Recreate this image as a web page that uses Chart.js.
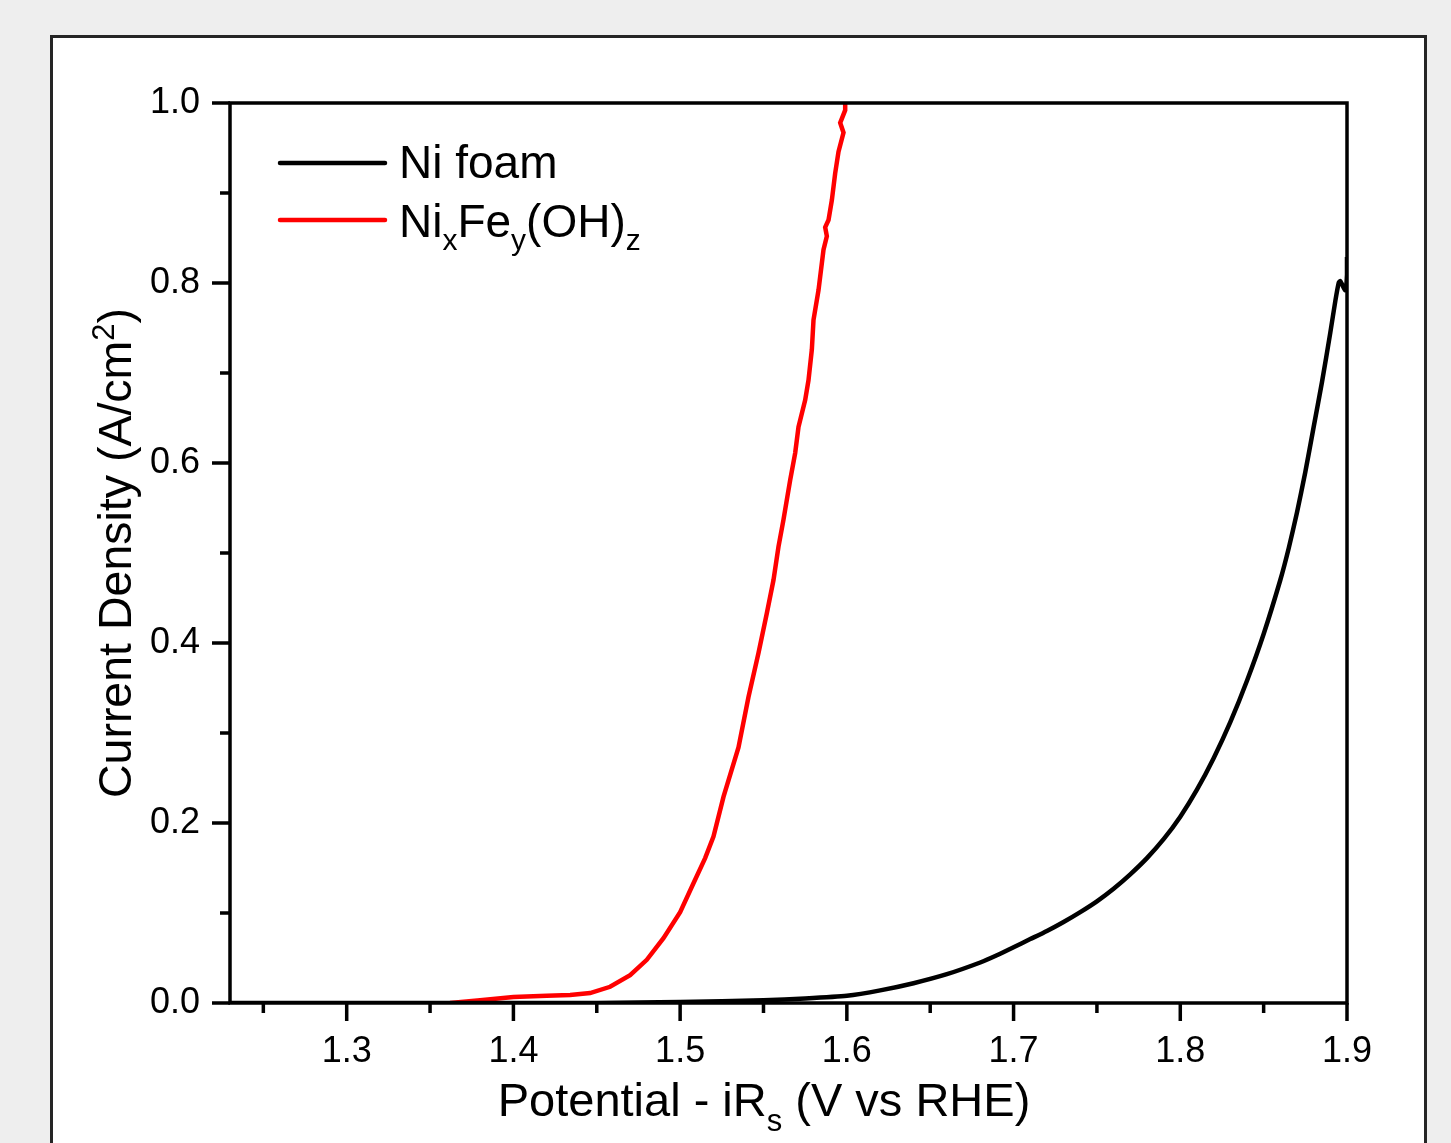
<!DOCTYPE html>
<html>
<head>
<meta charset="utf-8">
<script src="https://cdn.jsdelivr.net/npm/chart.js@4.4.1/dist/chart.umd.min.js"></script>
<style>
    body { margin: 0; background: #eeeeee; width: 1451px; height: 1143px; overflow: hidden; position: relative; }
    .panel { position: absolute; left: 50px; top: 35px; width: 1371px; height: 1200px; background: #fff; border: 3px solid #252525; }
    #lsvChart { position: absolute; left: 0; top: 0; }
</style>
</head>
<body>
<div class="panel"></div>
<canvas id="lsvChart" width="1451" height="1143"></canvas>
<script>
// Ni foam
const blackV = [1.23, 1.30, 1.40, 1.45, 1.50, 1.55, 1.575, 1.60, 1.62, 1.64, 1.66, 1.68, 1.69, 1.70, 1.71, 1.72, 1.73, 1.74, 1.75, 1.76, 1.77, 1.78, 1.79, 1.80, 1.81, 1.82, 1.83, 1.84, 1.85, 1.86, 1.865, 1.87, 1.875, 1.88, 1.885, 1.89, 1.893, 1.895, 1.896, 1.899, 1.900, 1.900];
const blackJ = [0, 0, 0, 0, 0.001, 0.003, 0.005, 0.008, 0.014, 0.022, 0.032, 0.045, 0.053, 0.062, 0.071, 0.080, 0.090, 0.101, 0.113, 0.127, 0.143, 0.161, 0.182, 0.207, 0.237, 0.272, 0.312, 0.358, 0.410, 0.470, 0.505, 0.545, 0.590, 0.640, 0.690, 0.745, 0.780, 0.800, 0.802, 0.792, 0.809, 0.829];

// NixFey(OH)z
const redV = [1.362, 1.38, 1.40, 1.42, 1.434, 1.446, 1.458, 1.47, 1.48, 1.49, 1.50, 1.508, 1.515, 1.52, 1.526, 1.535, 1.541, 1.547, 1.552, 1.556, 1.559, 1.562, 1.566, 1.569, 1.571, 1.575, 1.577, 1.579, 1.580, 1.583, 1.586, 1.588, 1.587, 1.589, 1.591, 1.593, 1.595, 1.598, 1.596, 1.599, 1.599];
const redJ = [0, 0.003, 0.0067, 0.008, 0.009, 0.011, 0.018, 0.031, 0.048, 0.072, 0.101, 0.133, 0.161, 0.185, 0.229, 0.284, 0.340, 0.389, 0.433, 0.470, 0.507, 0.537, 0.581, 0.611, 0.640, 0.670, 0.692, 0.726, 0.759, 0.792, 0.837, 0.852, 0.862, 0.870, 0.892, 0.922, 0.946, 0.967, 0.978, 0.992, 1.0];

const xMajor = [1.3, 1.4, 1.5, 1.6, 1.7, 1.8, 1.9];
const xMinor = [1.25, 1.35, 1.45, 1.55, 1.65, 1.75, 1.85];
const yMajor = [0, 0.2, 0.4, 0.6, 0.8, 1.0];
const yMinor = [0.1, 0.3, 0.5, 0.7, 0.9];

const FONT = 'Arial, "Liberation Sans", sans-serif';

function toPoints(xs, ys) {
    return xs.map((v, i) => ({ x: v, y: ys[i] }));
}

// draw text pieces with sub/superscripts: [text, size, dy]
function richWidth(ctx, parts) {
    let w = 0;
    parts.forEach(p => { ctx.font = p[1] + 'px ' + FONT; w += ctx.measureText(p[0]).width; });
    return w;
}
function drawRich(ctx, parts, x, y) {
    let cx = x;
    parts.forEach(p => {
        ctx.font = p[1] + 'px ' + FONT;
        ctx.fillText(p[0], cx, y + p[2]);
        cx += ctx.measureText(p[0]).width;
    });
}

const decor = {
    id: "decor",
    afterDatasetsDraw(chart) {
        const { ctx, chartArea: a, scales: { x, y } } = chart;
        ctx.save();
        ctx.strokeStyle = "#000";
        ctx.lineWidth = 3.5;
        ctx.strokeRect(a.left, a.top, a.right - a.left, a.bottom - a.top);

        ctx.beginPath();
        xMajor.forEach(v => { const p = x.getPixelForValue(v); ctx.moveTo(p, a.bottom); ctx.lineTo(p, a.bottom + 18); });
        xMinor.forEach(v => { const p = x.getPixelForValue(v); ctx.moveTo(p, a.bottom); ctx.lineTo(p, a.bottom + 10); });
        yMajor.forEach(v => { const p = y.getPixelForValue(v); ctx.moveTo(a.left, p); ctx.lineTo(a.left - 18, p); });
        yMinor.forEach(v => { const p = y.getPixelForValue(v); ctx.moveTo(a.left, p); ctx.lineTo(a.left - 10, p); });
        ctx.stroke();

        // legend
        ctx.lineWidth = 4.5;
        ctx.lineCap = "round";
        ctx.strokeStyle = "#000";
        ctx.beginPath(); ctx.moveTo(280, 163); ctx.lineTo(385, 163); ctx.stroke();
        ctx.strokeStyle = "#ff0000";
        ctx.beginPath(); ctx.moveTo(280, 220); ctx.lineTo(385, 220); ctx.stroke();

        ctx.fillStyle = "#000";
        ctx.textBaseline = "alphabetic";
        ctx.textAlign = "left";
        drawRich(ctx, [["Ni foam", 46, 0]], 399, 178);
        drawRich(ctx, [["Ni", 46, 0], ["x", 30, 13], ["Fe", 46, 0], ["y", 30, 13], ["(OH)", 46, 0], ["z", 30, 13]], 399, 237);

        // x title
        const xt = [["Potential - iR", 47, 0], ["s", 31, 15], [" (V vs RHE)", 47, 0]];
        const xw = richWidth(ctx, xt);
        drawRich(ctx, xt, 764 - xw / 2, 1116);

        // y title
        const yt = [["Current Density (A/cm", 46.5, 0], ["2", 31, -17], [")", 46.5, 0]];
        ctx.translate(131, (a.top + a.bottom) / 2);
        ctx.rotate(-Math.PI / 2);
        const yw = richWidth(ctx, yt);
        drawRich(ctx, yt, -yw / 2, 0);
        ctx.restore();
    }
};

document.addEventListener("DOMContentLoaded", () => {
    const ctx = document.getElementById("lsvChart").getContext("2d");

    new Chart(ctx, {
        type: "line",
        data: {
            datasets: [
                {
                    label: "Ni foam",
                    data: toPoints(blackV, blackJ),
                    borderColor: "#000000",
                    borderWidth: 4.5,
                    pointRadius: 0,
                    tension: 0.2,
                },
                {
                    label: "NixFey(OH)z",
                    data: toPoints(redV, redJ),
                    borderColor: "#ff0000",
                    borderWidth: 4.5,
                    pointRadius: 0,
                    tension: 0,
                },
            ],
        },
        options: {
            responsive: false,
            animation: false,
            layout: { padding: { left: 0, top: 103, right: 104, bottom: 0 } },
            plugins: {
                legend: { display: false },
                tooltip: { enabled: false },
            },
            scales: {
                x: {
                    type: "linear",
                    min: 1.23,
                    max: 1.9,
                    border: { display: false },
                    grid: { display: false, drawTicks: false },
                    afterBuildTicks: s => { s.ticks = xMajor.map(v => ({ value: v })); },
                    afterFit: s => { s.height = 140; },
                    ticks: {
                        padding: 27,
                        color: "#000",
                        font: { family: FONT, size: 36 },
                        callback: v => v.toFixed(1),
                    },
                },
                y: {
                    min: 0,
                    max: 1.0,
                    border: { display: false },
                    grid: { display: false, drawTicks: false },
                    afterBuildTicks: s => { s.ticks = yMajor.map(v => ({ value: v })); },
                    afterFit: s => { s.width = 230; },
                    ticks: {
                        padding: 30,
                        color: "#000",
                        font: { family: FONT, size: 36 },
                        callback: v => v.toFixed(1),
                    },
                },
            },
        },
        plugins: [decor],
    });
});
</script>
</body>
</html>
